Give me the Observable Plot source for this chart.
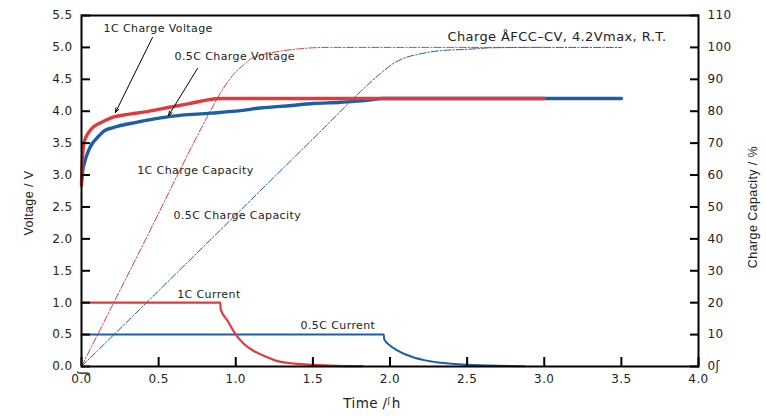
<!DOCTYPE html>
<html><head><meta charset="utf-8">
<script src="https://cdn.jsdelivr.net/npm/d3@7"></script>
<script src="https://cdn.jsdelivr.net/npm/@observablehq/plot@0.6"></script>
<style>
body{margin:0;background:#fff;}
#chart svg{display:block;background:#fff}
#chart svg text{letter-spacing:0.4px}
</style></head><body><div id="chart"></div>
<script>
// ---- data ----
// 1C charge voltage (V) vs time (h)
const v1C_t = [0, 0.005, 0.015, 0.03, 0.047, 0.07, 0.1, 0.15, 0.21, 0.3, 0.4, 0.5, 0.6, 0.7, 0.8, 0.87, 0.92, 1.5, 2.0, 2.5, 3.0];
const v1C_v = [2.84, 3.2, 3.49, 3.6, 3.67, 3.74, 3.79, 3.85, 3.91, 3.95, 3.985, 4.03, 4.075, 4.12, 4.17, 4.195, 4.2, 4.2, 4.2, 4.2, 4.2];
// 0.5C charge voltage
const v05C_t = [0, 0.01, 0.026, 0.045, 0.069, 0.1, 0.145, 0.2, 0.3, 0.4, 0.578, 0.838, 1.03, 1.16, 1.36, 1.5, 1.68, 1.85, 1.95, 2.5, 3.0, 3.5];
const v05C_v = [2.9, 3.1, 3.25, 3.38, 3.49, 3.58, 3.69, 3.74, 3.8, 3.85, 3.92, 3.97, 4.01, 4.05, 4.09, 4.12, 4.14, 4.17, 4.2, 4.2, 4.2, 4.2];
// 1C charge capacity (%)
const c1C_t = [0, 0.4, 0.838, 0.88, 0.92, 0.96, 0.99, 1.05, 1.1, 1.18, 1.25, 1.42, 1.6, 2.0, 2.5, 3.0];
const c1C_c = [0, 38.3, 80.3, 84, 87.2, 90, 91.8, 94.5, 96.5, 97.8, 98.5, 99.6, 100, 100, 100, 100];
// 0.5C charge capacity (%)
const c05C_t = [0, 0.8, 1.56, 1.81, 1.93, 2.03, 2.1, 2.18, 2.33, 2.5, 2.67, 3.0, 3.5];
const c05C_c = [0, 38, 74.2, 86.2, 91.5, 95.2, 96.8, 97.8, 99.0, 99.4, 99.9, 100, 100];
// 1C current (A)
const i1C_t = [0, 0.5, 0.9, 0.902, 0.946, 0.99, 1.05, 1.12, 1.2, 1.25, 1.38, 1.5, 1.65, 1.82];
const i1C_i = [1.0, 1.0, 1.0, 0.9, 0.72, 0.54, 0.36, 0.24, 0.15, 0.1, 0.045, 0.025, 0.01, 0.005];
// 0.5C current (A)
const i05C_t = [0, 1.0, 1.96, 1.962, 2.0, 2.05, 2.11, 2.22, 2.33, 2.5, 2.7, 2.87];
const i05C_i = [0.5, 0.5, 0.5, 0.43, 0.33, 0.25, 0.18, 0.10, 0.06, 0.027, 0.01, 0.005];

const xTicks = [0, 0.5, 1, 1.5, 2, 2.5, 3, 3.5, 4];
const vTicks = [0, 0.5, 1, 1.5, 2, 2.5, 3, 3.5, 4, 4.5, 5, 5.5];
const capTicks = [0, 10, 20, 30, 40, 50, 60, 70, 80, 90, 100, 110];
const capTickLabels = ["0ʃ", "10", "20", "30", "40", "50", "60", "70", "80", "90", "100", "110"];
const capMax = 110, vMax = 5.5;

// annotations (positions in data units)
const labelText = ["1C Charge Voltage", "0.5C Charge Voltage", "1C Charge Capacity", "0.5C Charge Capacity", "1C Current", "0.5C Current"];
const labelT = [0.143, 0.603, 0.361, 0.596, 0.62, 1.42];
const labelV = [5.30, 4.86, 3.07, 2.366, 1.123, 0.642];
const arrowFrom = [[0.46, 5.155], [0.752, 4.67]];
const arrowTo = [[0.22, 3.98], [0.564, 3.93]];

const RED = "#e03b3b", BLUE = "#1d5ea6";
const zip = (ts, vs) => ts.map((t, i) => ({t, v: vs[i]}));
const capToV = c => c * vMax / capMax;
const zipCap = (ts, cs) => ts.map((t, i) => ({t, v: capToV(cs[i])}));

const labels = labelText.map((text, i) => ({text, t: labelT[i], v: labelV[i]}));
const arrows = arrowFrom.map((f, i) => ({x1: f[0], y1: f[1], x2: arrowTo[i][0], y2: arrowTo[i][1]}));

const dash = "7,2,1.5,2";
const plot = Plot.plot({
  width: 766, height: 416,
  marginLeft: 81, marginRight: 68, marginTop: 15, marginBottom: 50,
  style: {fontFamily: "DejaVu Sans, Verdana, sans-serif", fontSize: "12px", color: "#111", background: "#fff"},
  x: {domain: [0, 4]},
  y: {domain: [0, vMax]},
  marks: [
    Plot.line(zipCap(c05C_t, c05C_c), {x: "t", y: "v", stroke: BLUE, strokeWidth: 1, strokeDasharray: dash, curve: "monotone-x"}),
    Plot.line(zipCap(c1C_t, c1C_c), {x: "t", y: "v", stroke: RED, strokeWidth: 1, strokeDasharray: dash, curve: "monotone-x"}),
    Plot.line(zip(i05C_t, i05C_i), {x: "t", y: "v", stroke: BLUE, strokeWidth: 2, curve: "monotone-x"}),
    Plot.line(zip(i1C_t, i1C_i), {x: "t", y: "v", stroke: RED, strokeWidth: 2.2, curve: "monotone-x"}),
    Plot.line(zip(v05C_t, v05C_v), {x: "t", y: "v", stroke: BLUE, strokeWidth: 3.4, curve: "monotone-x"}),
    Plot.line(zip(v1C_t, v1C_v), {x: "t", y: "v", stroke: RED, strokeWidth: 3.4, curve: "monotone-x"}),
    Plot.frame({stroke: "#000", strokeWidth: 2}),
    // inward ticks
    Plot.axisX(xTicks, {tickSize: -9, strokeWidth: 2, stroke: "#000", fill: "none", label: null}),
    Plot.axisY(vTicks, {tickSize: -9, strokeWidth: 2, stroke: "#000", fill: "none", label: null}),
    Plot.axisY(capTicks.map(capToV), {anchor: "right", tickSize: -9, strokeWidth: 2, stroke: "#000", fill: "none", label: null}),
    // tick labels
    Plot.axisX(xTicks, {tickSize: 0, tickPadding: 8, stroke: "none", fill: "#222", tickFormat: d => d.toFixed(1), label: null}),
    Plot.axisY(vTicks, {tickSize: 0, tickPadding: 9, stroke: "none", fill: "#222", tickFormat: d => d.toFixed(1), label: null}),
    Plot.axisY(capTicks.map(capToV), {anchor: "right", tickSize: 0, tickPadding: 9, stroke: "none", fill: "#222",
      tickFormat: d => capTickLabels[capTicks.indexOf(Math.round(d * capMax / vMax))], label: null}),
    // annotations
    Plot.text(labels, {x: "t", y: "v", text: "text", textAnchor: "start", fontSize: 11, fill: "#222"}),
    Plot.arrow(arrows, {x1: "x1", y1: "y1", x2: "x2", y2: "y2", stroke: "#000", strokeWidth: 1, headLength: 7, headAngle: 40}),
    Plot.text(["Charge ÅFCC–CV, 4.2Vmax, R.T."], {frameAnchor: "top-right", dx: -32, dy: 16, textAnchor: "end", fontSize: 13, fill: "#222"}),
    // axis titles
    Plot.text(["Voltage / V"], {frameAnchor: "left", dx: -53, dy: 12, rotate: -90, textAnchor: "middle", fontSize: 12.5, fontFamily: "Liberation Sans, Arial, sans-serif", fill: "#222"}),
    Plot.text(["Charge Capacity / %"], {frameAnchor: "right", dx: 54, dy: 16, rotate: -90, textAnchor: "middle", fontSize: 12.5, fontFamily: "Liberation Sans, Arial, sans-serif", fill: "#222"}),
    Plot.text(["Time /ᶴh"], {frameAnchor: "bottom", dx: -18, dy: 41, fontSize: 13.5, fontFamily: "DejaVu Sans, sans-serif", fill: "#222"}),
    Plot.text(["ʃ"], {frameAnchor: "bottom-left", dx: -2, dy: 5, rotate: 90, fontSize: 12, fill: "#222"})
  ]
});
document.getElementById("chart").appendChild(plot);
</script>
</body></html>
